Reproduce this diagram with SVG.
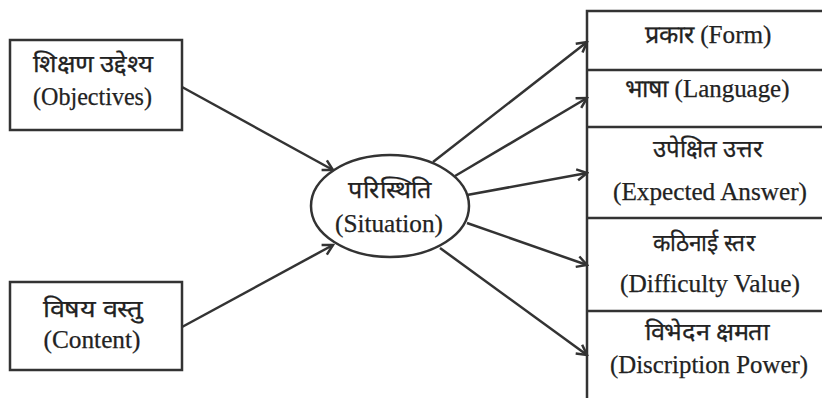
<svg xmlns="http://www.w3.org/2000/svg" width="822" height="398" viewBox="0 0 822 398">
<defs>
<style>
.box{fill:none;stroke:#333;stroke-width:2.5}
.ln{fill:none;stroke:#333;stroke-width:2.5}
.t{font-family:"Liberation Serif","Times New Roman",serif;font-size:25px;fill:#222;stroke:#222;stroke-width:0.25;text-anchor:middle}
.h{font-size:24px}
</style>
<marker id="ah" viewBox="-12 -7 14 14" refX="0" refY="0" markerWidth="14" markerHeight="14" markerUnits="userSpaceOnUse" orient="auto">
<path d="M -10 -5.5 L 0 0 L -10 5.5" fill="none" stroke="#333" stroke-width="2.5" stroke-linejoin="miter"/>
</marker>
</defs>
<rect width="822" height="398" fill="#fff"/>
<g id="objectives">
<rect class="box" x="10" y="40" width="172" height="90"/>
<text class="t h" x="93" y="72" textLength="120" lengthAdjust="spacingAndGlyphs">शिक्षण उद्देश्य</text>
<text class="t" x="92.5" y="105" textLength="119" lengthAdjust="spacingAndGlyphs">(Objectives)</text>
</g>
<g id="content">
<rect class="box" x="10" y="282" width="172" height="88"/>
<text class="t h" x="93" y="317" textLength="100" lengthAdjust="spacingAndGlyphs">विषय वस्तु</text>
<text class="t" x="92" y="348" textLength="97" lengthAdjust="spacingAndGlyphs">(Content)</text>
</g>
<g id="situation">
<ellipse class="box" cx="390" cy="206" rx="79" ry="51"/>
<text class="t h" x="390" y="198" textLength="84" lengthAdjust="spacingAndGlyphs">परिस्थिति</text>
<text class="t" x="389" y="232" textLength="108" lengthAdjust="spacingAndGlyphs">(Situation)</text>
</g>
<g id="column">
<path class="ln" d="M587 398 V11 H822 M587 70 H822 M587 127 H822 M587 218 H822 M587 311 H822"/>
</g>
<g id="form">
<text class="t" x="708" y="43" textLength="127" lengthAdjust="spacingAndGlyphs">प्रकार (Form)</text>
</g>
<g id="language">
<text class="t" x="707" y="97" textLength="165" lengthAdjust="spacingAndGlyphs">भाषा (Language)</text>
</g>
<g id="expected">
<text class="t h" x="708" y="157" textLength="110" lengthAdjust="spacingAndGlyphs">उपेक्षित उत्तर</text>
<text class="t" x="710" y="200" textLength="194" lengthAdjust="spacingAndGlyphs">(Expected Answer)</text>
</g>
<g id="difficulty">
<text class="t h" x="704" y="251" textLength="102" lengthAdjust="spacingAndGlyphs">कठिनाई स्तर</text>
<text class="t" x="710" y="292" textLength="180" lengthAdjust="spacingAndGlyphs">(Difficulty Value)</text>
</g>
<g id="discrimination">
<text class="t h" x="707" y="340" textLength="125" lengthAdjust="spacingAndGlyphs">विभेदन क्षमता</text>
<text class="t" x="709" y="373" textLength="198" lengthAdjust="spacingAndGlyphs">(Discription Power)</text>
</g>
<g id="connectors">
<line class="ln" x1="182" y1="87" x2="333" y2="170" marker-end="url(#ah)"/>
<line class="ln" x1="182" y1="327" x2="333" y2="245" marker-end="url(#ah)"/>
<line class="ln" x1="433" y1="162" x2="587" y2="42" marker-end="url(#ah)"/>
<line class="ln" x1="455" y1="176" x2="587" y2="98" marker-end="url(#ah)"/>
<line class="ln" x1="467" y1="195" x2="587" y2="173" marker-end="url(#ah)"/>
<line class="ln" x1="467" y1="223" x2="587" y2="265" marker-end="url(#ah)"/>
<line class="ln" x1="440" y1="248" x2="587" y2="355" marker-end="url(#ah)"/>
</g>
</svg>
